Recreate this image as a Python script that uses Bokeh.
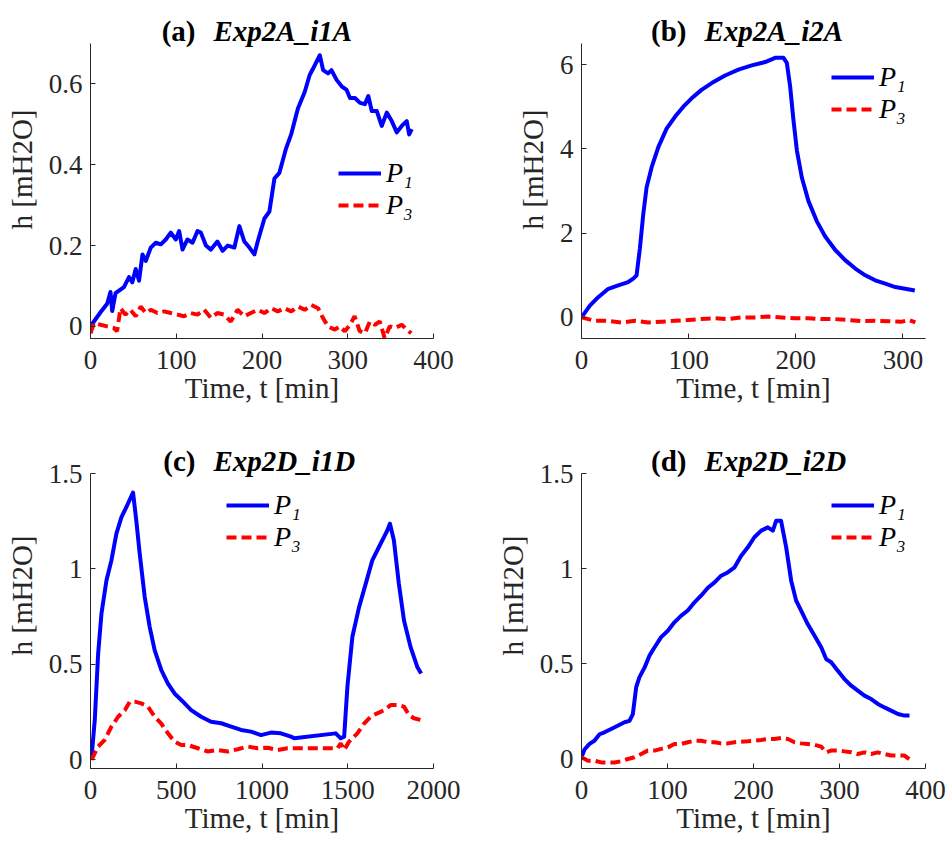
from bokeh.plotting import figure
from bokeh.models import (Legend, LegendItem, Label, FixedTicker,
                          CustomJSTickFormatter, Range1d)
from bokeh.layouts import gridplot
from bokeh.embed import file_html
from bokeh.resources import INLINE

# ---------------- data ----------------
# (a) Exp2A_i1A
a_t1 = [0, 11.7, 19.4, 23.3, 25.3, 29.2, 39, 44.9, 48.8, 52.7, 56.6, 60.6, 64.5, 70.3,
        76.1, 82, 87.8, 93.6, 99.5, 103.4, 107.3, 113, 119, 124.8, 128.7, 134.6, 140.4,
        148, 154, 160, 167.8, 173.6, 179.4, 185.3, 191.1, 195, 202.8, 208.6, 214.5, 220.3,
        228, 234, 240, 242, 249.8, 255.6, 259.6, 267.4, 271.3, 277, 281, 287, 292.9, 298.7,
        302.6, 308.4, 314.3, 320, 324, 328, 333.8, 339.6, 345.5, 351.3, 357.2, 363, 368.8,
        371.6, 374.7]
a_p1 = [0.0, 0.035, 0.056, 0.085, 0.038, 0.082, 0.097, 0.122, 0.109, 0.142, 0.113, 0.178,
        0.162, 0.195, 0.207, 0.203, 0.215, 0.232, 0.215, 0.236, 0.19, 0.215, 0.207, 0.236,
        0.232, 0.2, 0.19, 0.21, 0.187, 0.2, 0.195, 0.248, 0.21, 0.195, 0.178, 0.21, 0.267,
        0.284, 0.366, 0.38, 0.44, 0.475, 0.524, 0.54, 0.58, 0.622, 0.638, 0.671, 0.634,
        0.626, 0.634, 0.61, 0.594, 0.585, 0.565, 0.565, 0.553, 0.55, 0.57, 0.533, 0.533,
        0.496, 0.529, 0.508, 0.48, 0.496, 0.508, 0.475, 0.488]
a_t3 = [0, 4, 11.7, 19.4, 27.2, 31, 35, 40.8, 46.6, 52.7, 58.5, 64.5, 70.3, 78, 85.8, 93.6,
        101.4, 109, 117, 124.8, 132.6, 140.4, 148, 156, 163.6, 171.5, 179.4, 187, 195,
        202.8, 210.6, 218.4, 226, 234, 242, 249.8, 257.5, 265.4, 271, 277, 284.9, 290.7,
        296.6, 302.6, 308, 314, 320, 325.8, 331.7, 337.5, 343, 349, 355, 363, 368.8, 374]
a_p3 = [-0.017, 0.008, 0.004, 0.0, -0.004, -0.012, 0.045, 0.029, 0.041, 0.025, 0.049,
        0.033, 0.041, 0.033, 0.037, 0.033, 0.029, 0.025, 0.033, 0.029, 0.041, 0.021, 0.033,
        0.029, 0.012, 0.041, 0.025, 0.033, 0.041, 0.033, 0.045, 0.037, 0.045, 0.037, 0.049,
        0.041, 0.053, 0.045, 0.021, 0.0, -0.008, 0.0, -0.012, 0.004, 0.025, -0.012, -0.017,
        0.012, 0.004, 0.012, -0.029, 0.0, -0.004, 0.004, -0.008, -0.017]

# (b) Exp2A_i2A
b_t1 = [0, 7.8, 15.6, 25, 34.3, 43.6, 48.3, 51.4, 54.5, 57.6, 60.7, 65.4, 71.7, 79.4, 87.2,
        95, 102.8, 112, 121.5, 134, 146.4, 158.9, 171.3, 180.7, 188.5, 191.6, 194.7, 197.8,
        201, 205.6, 211.8, 219.6, 227.4, 236.8, 246, 255.5, 264.8, 274, 283.5, 292.8, 302,
        311]
b_p1 = [0, 0.28, 0.48, 0.68, 0.76, 0.84, 0.92, 1.0, 1.64, 2.44, 3.08, 3.56, 4.04, 4.48,
        4.76, 5.0, 5.2, 5.4, 5.56, 5.74, 5.88, 5.98, 6.06, 6.16, 6.16, 6.04, 5.48, 4.68,
        3.96, 3.32, 2.76, 2.28, 1.92, 1.6, 1.36, 1.16, 1.0, 0.88, 0.8, 0.72, 0.68, 0.64]
b_t3 = [0, 12.5, 25, 37.4, 49.8, 62.3, 74.8, 87.2, 99.7, 112, 124.6, 137, 149.5, 162,
        174.5, 187, 199.4, 211.8, 224.3, 236.8, 249, 261.7, 274, 286.6, 299, 305.3, 311.5]
b_p3 = [0, -0.08, -0.08, -0.12, -0.08, -0.12, -0.1, -0.08, -0.06, -0.04, -0.02, -0.04,
        0.0, 0.0, 0.02, 0.0, -0.02, -0.02, -0.04, -0.04, -0.06, -0.09, -0.08, -0.09, -0.1,
        -0.06, -0.12]

# (c) Exp2D_i1D
c_t1 = [5.8, 25, 44.6, 64, 93, 122, 151, 180, 209, 248, 267, 287, 316, 345, 374, 413,
        451.5, 490, 539, 587, 645, 703, 762, 820, 878, 936, 994, 1052, 1110, 1169, 1188,
        1430, 1459, 1479, 1498, 1527, 1566, 1605, 1643, 1682, 1711, 1730, 1746, 1769,
        1798, 1828, 1866, 1905, 1928]
c_p1 = [0.009, 0.21, 0.557, 0.767, 0.94, 1.045, 1.185, 1.27, 1.324, 1.4, 1.254, 1.08,
        0.854, 0.697, 0.575, 0.47, 0.4, 0.348, 0.305, 0.261, 0.226, 0.2, 0.192, 0.174,
        0.157, 0.148, 0.13, 0.143, 0.139, 0.122, 0.113, 0.139, 0.113, 0.122, 0.383, 0.645,
        0.8, 0.923, 1.045, 1.115, 1.167, 1.2, 1.237, 1.15, 0.923, 0.73, 0.592, 0.488, 0.453]
c_t3 = [6, 44.6, 83, 122, 161, 200, 229, 258, 296.5, 335, 374, 413, 451.5, 490, 529, 568,
        626, 684, 742, 800, 858.5, 917, 975, 1033, 1091, 1149, 1207, 1324, 1440, 1459,
        1479, 1508, 1556, 1595, 1634, 1672, 1711, 1750, 1789, 1828, 1857, 1886, 1928]
c_p3 = [0.0, 0.07, 0.105, 0.174, 0.226, 0.26, 0.305, 0.305, 0.296, 0.279, 0.226, 0.19,
        0.139, 0.096, 0.078, 0.078, 0.061, 0.044, 0.052, 0.044, 0.056, 0.07, 0.061, 0.064,
        0.052, 0.061, 0.061, 0.061, 0.061, 0.087, 0.052, 0.096, 0.139, 0.19, 0.226, 0.244,
        0.26, 0.287, 0.287, 0.279, 0.235, 0.218, 0.209]

# (d) Exp2D_i2D
d_t1 = [0, 3.5, 9.3, 15, 21, 26.7, 34.5, 42, 50, 55.8, 59.7, 63.6, 67.4, 73.3, 79, 85,
        92.6, 100.4, 108, 116, 123.6, 131.4, 139, 147, 154.7, 162.4, 170, 178, 185.7,
        193.4, 201, 209, 216.7, 222.5, 226.4, 232, 238, 243.8, 249.6, 255.4, 263, 271,
        278.7, 284.5, 290.3, 298, 305.8, 313.6, 321.3, 329, 336.8, 344.6, 352.3, 360, 368,
        375.6, 381.4]
d_p1 = [0.009, 0.05, 0.079, 0.096, 0.13, 0.14, 0.158, 0.175, 0.193, 0.2, 0.236, 0.377,
        0.43, 0.48, 0.543, 0.587, 0.64, 0.674, 0.718, 0.753, 0.78, 0.823, 0.858, 0.9,
        0.928, 0.963, 0.98, 1.007, 1.068, 1.112, 1.165, 1.2, 1.217, 1.2, 1.252, 1.252,
        1.112, 0.937, 0.832, 0.779, 0.709, 0.648, 0.587, 0.525, 0.508, 0.464, 0.42, 0.385,
        0.359, 0.333, 0.315, 0.289, 0.271, 0.254, 0.236, 0.228, 0.228]
d_t3 = [0, 7.4, 15, 23, 30.6, 38.4, 46, 54, 61.6, 69.4, 77, 85, 92.6, 100.4, 108, 116,
        123.6, 131.4, 139, 147, 154.7, 162.4, 170, 178, 185.7, 193.4, 201, 209, 216.7,
        224.4, 232, 240, 247.7, 255.4, 263, 271, 278.7, 284.5, 290, 298, 305.8, 313.6,
        321.3, 329, 336.8, 344.6, 352.3, 360, 368, 375.6, 383.3]
d_p3 = [0.009, -0.009, -0.009, -0.018, -0.018, -0.018, -0.012, 0.0, 0.009, 0.026, 0.044,
        0.044, 0.053, 0.061, 0.079, 0.079, 0.088, 0.096, 0.096, 0.088, 0.088, 0.082, 0.082,
        0.088, 0.091, 0.093, 0.096, 0.1, 0.105, 0.105, 0.11, 0.105, 0.088, 0.082, 0.079,
        0.075, 0.065, 0.035, 0.044, 0.044, 0.04, 0.035, 0.026, 0.035, 0.026, 0.035, 0.026,
        0.018, 0.018, 0.018, -0.009]

tags = ["(a)", "(b)", "(c)", "(d)"]
names = ["Exp2A_i1A", "Exp2A_i2A", "Exp2D_i1D", "Exp2D_i2D"]
series_labels = ["P\u2081", "P\u2083"]

a_xticks = [0, 100, 200, 300, 400]
a_yticks = [0, 0.2, 0.4, 0.6]
b_xticks = [0, 100, 200, 300]
b_yticks = [0, 2, 4, 6]
c_xticks = [0, 500, 1000, 1500, 2000]
c_yticks = [0, 0.5, 1, 1.5]
d_xticks = [0, 100, 200, 300, 400]
d_yticks = [0, 0.5, 1, 1.5]

x_label = "Time, t [min]"
y_label = "h [mH2O]"

# ---------------- styling ----------------
FONT = "Liberation Serif"
AX = "#262626"
BLUE = "#0000FF"
RED = "#FF0000"
FS_TICK = "27px"
FS_LAB = "29px"
FS_LEG = "28px"
FS_TITLE = "29px"
AXES_H = 295      # height of the axes box in pixels


def make_panel(tag, name, t1, p1, t3, p3, xr, yr, xticks, yticks,
               size, borders, head, leg_xy):
    w, h = size
    left, right, bottom = borders
    # extend the frame upward (room for the title) while the axis is bounded to yr
    y_top = yr[1] + (yr[1] - yr[0]) * head / AXES_H
    p = figure(width=w, height=h, x_range=Range1d(*xr), y_range=Range1d(yr[0], y_top),
               output_backend="svg", toolbar_location=None,
               min_border_left=left, min_border_right=right,
               min_border_top=0, min_border_bottom=bottom)
    p.outline_line_color = None
    p.grid.visible = False
    p.background_fill_color = "white"
    p.border_fill_color = "white"

    fmt = "return String(Number(tick.toFixed(4)));"
    p.xaxis.ticker = FixedTicker(ticks=xticks)
    p.yaxis.ticker = FixedTicker(ticks=yticks)
    p.yaxis.bounds = yr
    for ax in (p.xaxis, p.yaxis):
        ax.formatter = CustomJSTickFormatter(code=fmt)
        ax.axis_line_color = AX
        ax.major_tick_line_color = AX
        ax.major_tick_in = 5
        ax.major_tick_out = 0
        ax.minor_tick_line_color = None
        ax.major_label_text_font = FONT
        ax.major_label_text_font_size = FS_TICK
        ax.major_label_text_color = AX
        ax.axis_label_text_font = FONT
        ax.axis_label_text_font_size = FS_LAB
        ax.axis_label_text_font_style = "normal"
        ax.axis_label_text_color = AX
    p.xaxis.major_label_standoff = 12
    p.yaxis.major_label_standoff = 8
    p.xaxis.axis_label_standoff = 0
    p.yaxis.axis_label_standoff = 8
    p.xaxis.axis_label = x_label
    p.yaxis.axis_label = y_label

    r1 = p.line(t1, p1, line_color=BLUE, line_width=4, line_join="round")
    r3 = p.line(t3, p3, line_color=RED, line_width=4, line_dash="10 5")

    legend = Legend(items=[LegendItem(label=series_labels[0], renderers=[r1]),
                           LegendItem(label=series_labels[1], renderers=[r3])],
                    location=leg_xy, padding=0, margin=0, spacing=0,
                    glyph_width=43, glyph_height=30, label_height=30,
                    label_standoff=5,
                    label_text_font=FONT, label_text_font_size=FS_LEG,
                    label_text_font_style="italic", label_text_color="black",
                    border_line_color=None, background_fill_alpha=0)
    p.add_layout(legend)

    p.add_layout(Label(x=105, y=AXES_H + 13, x_units="screen", y_units="screen",
                       text=tag, text_align="right", text_baseline="alphabetic",
                       text_font=FONT, text_font_size=FS_TITLE, text_font_style="bold",
                       text_color="black"))
    p.add_layout(Label(x=123, y=AXES_H + 13, x_units="screen", y_units="screen",
                       text=name, text_align="left", text_baseline="alphabetic",
                       text_font=FONT, text_font_size=FS_TITLE,
                       text_font_style="bold italic", text_color="black"))
    return p


pa = make_panel(tags[0], names[0], a_t1, a_p1, a_t3, a_p3, (0, 400), (-0.03, 0.7),
                a_xticks, a_yticks, (474, 422), (90, 41, 84), 43, (248, 117))
pb = make_panel(tags[1], names[1], b_t1, b_p1, b_t3, b_p3, (0, 321), (-0.5, 6.5),
                b_xticks, b_yticks, (473, 422), (107, 22, 84), 43, (250, 213))
pc = make_panel(tags[2], names[2], c_t1, c_p1, c_t3, c_p3, (0, 2000), (-0.045, 1.5),
                c_xticks, c_yticks, (474, 421), (89, 41, 75), 51, (136, 215))
pd = make_panel(tags[3], names[3], d_t1, d_p1, d_t3, d_p3, (0, 400), (-0.05, 1.5),
                d_xticks, d_yticks, (473, 421), (107, 22, 75), 51, (250, 215))

grid = gridplot([[pa, pb], [pc, pd]], toolbar_location=None)

open("out.html", "w").write(file_html(grid, INLINE))
